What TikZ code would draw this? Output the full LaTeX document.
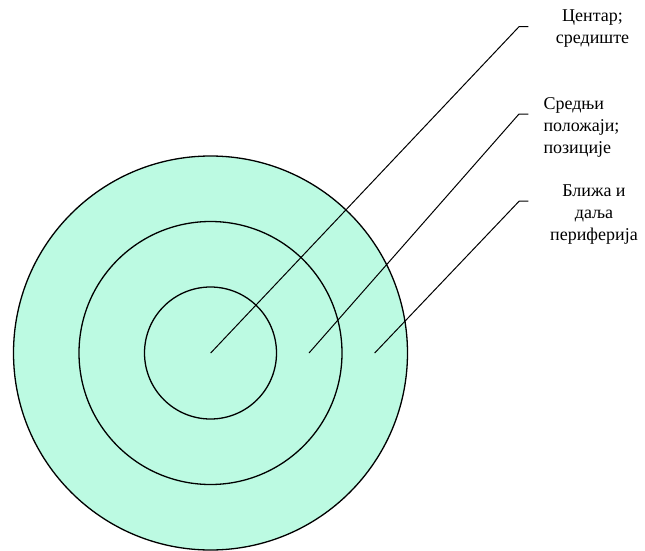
\documentclass[tikz,border=0pt]{standalone}
\usepackage{fontspec}
\setmainfont{Liberation Serif}
\definecolor{mint}{RGB}{188,250,226}
\begin{document}
\begin{tikzpicture}[x=1pt,y=-1pt,
  ring/.style={draw=black,line width=1.3pt,fill=mint},
  leader/.style={draw=black,line width=1pt},
  lbl/.style={inner sep=0pt,font=\fontsize{18}{21.8}\selectfont}]
\useasboundingbox (0,0) rectangle (645,551);
\coordinate (c) at (210.5,353);
\fill[mint] (c) circle (197);
\draw[ring] (c) circle (197);
\draw[ring] (c) circle (131.5);
\draw[ring] (c) circle (66);
\coordinate (s1) at (210.7,353);
\coordinate (s2) at (309,353);
\coordinate (s3) at (374.7,353);
\coordinate (k1) at (519,26.7);
\coordinate (k2) at (519,114);
\coordinate (k3) at (519.3,201);
\coordinate (e1) at (528.3,26.7);
\coordinate (e2) at (528.3,114);
\coordinate (e3) at (528.3,201);
\draw[leader] (s1) -- (k1) -- (e1);
\draw[leader] (s2) -- (k2) -- (e2);
\draw[leader] (s3) -- (k3) -- (e3);
\node[lbl,anchor=north,align=center] (t1) at (592.5,10) {Центар;\\средиште};
\node[lbl,anchor=north west,align=left] (t2) at (543.3,97.3) {Средњи\\положаји;\\позиције};
\node[lbl,anchor=north,align=center] (t3) at (594,185) {Ближа и\\даља\\периферија};
\end{tikzpicture}
\end{document}
